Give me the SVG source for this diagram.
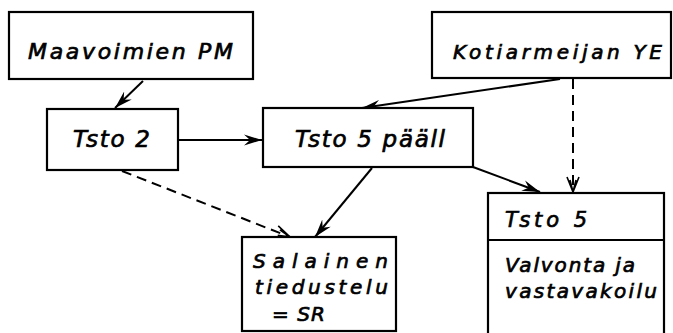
<svg xmlns="http://www.w3.org/2000/svg" width="673" height="333" viewBox="0 0 673 333">
<style>
.box{fill:#fff;stroke:#000;stroke-width:2.2}
.t{font-family:"DejaVu Sans","Liberation Sans",sans-serif;font-style:oblique;font-weight:normal;fill:#000;stroke:#000;stroke-width:0.7}
.c{fill:none;stroke:#000;stroke-width:2}
.d{fill:none;stroke:#000;stroke-width:2;stroke-dasharray:10 6}
</style>
<defs>
<marker id="ah" markerUnits="userSpaceOnUse" markerWidth="20" markerHeight="12" refX="18" refY="6" orient="auto" viewBox="0 0 20 12">
<path d="M0,0.5 L18,6 L0,11.5 L6,6 z" fill="#000"/>
</marker>
<marker id="ao" markerUnits="userSpaceOnUse" markerWidth="18" markerHeight="14" refX="16" refY="7" orient="auto" viewBox="0 0 18 14">
<path d="M1,1 L16,7 L1,13 M4,4 L16,7 L4,10" fill="none" stroke="#000" stroke-width="1.6"/>
</marker>
</defs>
<g id="connectors">
<line class="c" x1="143" y1="81" x2="115" y2="108" marker-end="url(#ah)"/>
<line class="c" x1="178" y1="140" x2="262" y2="140" marker-end="url(#ah)"/>
<line class="c" x1="560" y1="79" x2="362" y2="108" marker-end="url(#ah)"/>
<line class="d" x1="573" y1="79" x2="573" y2="192" marker-end="url(#ao)"/>
<line class="c" x1="473" y1="167" x2="540" y2="192" marker-end="url(#ah)"/>
<line class="c" x1="372" y1="168" x2="315" y2="237" marker-end="url(#ah)"/>
<line class="d" x1="122" y1="171" x2="290" y2="237" marker-end="url(#ao)"/>
</g>
<g id="maavoimien">
<rect class="box" x="9" y="12" width="244" height="67"/>
<text class="t" x="28" y="59" font-size="22" textLength="205" lengthAdjust="spacing">Maavoimien PM</text>
</g>
<g id="kotiarmeijan">
<rect class="box" x="432" y="12" width="239" height="66"/>
<text class="t" x="453" y="59" font-size="20" textLength="209" lengthAdjust="spacing">Kotiarmeijan YE</text>
</g>
<g id="tsto2">
<rect class="box" x="47" y="109" width="131" height="61"/>
<text class="t" x="73" y="147" font-size="23" textLength="77" lengthAdjust="spacing">Tsto 2</text>
</g>
<g id="tsto5paall">
<rect class="box" x="263" y="108" width="210" height="59"/>
<text class="t" x="295" y="147" font-size="23" textLength="150" lengthAdjust="spacing">Tsto 5 pääll</text>
</g>
<g id="salainen">
<rect class="box" x="242" y="237" width="154" height="94"/>
<text class="t" x="253" y="268" font-size="20" textLength="135" lengthAdjust="spacing">Salainen</text>
<text class="t" x="255" y="294" font-size="20" textLength="133" lengthAdjust="spacing">tiedustelu</text>
<text class="t" x="272" y="321" font-size="20" textLength="53" lengthAdjust="spacing">= SR</text>
</g>
<g id="tsto5">
<rect class="box" x="488" y="193" width="176" height="142"/>
<line class="c" x1="488" y1="240" x2="664" y2="240"/>
<text class="t" x="505" y="227" font-size="21" textLength="82" lengthAdjust="spacing">Tsto 5</text>
<text class="t" x="505" y="272" font-size="20" textLength="130" lengthAdjust="spacing">Valvonta ja</text>
<text class="t" x="505" y="298" font-size="20" textLength="152" lengthAdjust="spacing">vastavakoilu</text>
</g>
</svg>
